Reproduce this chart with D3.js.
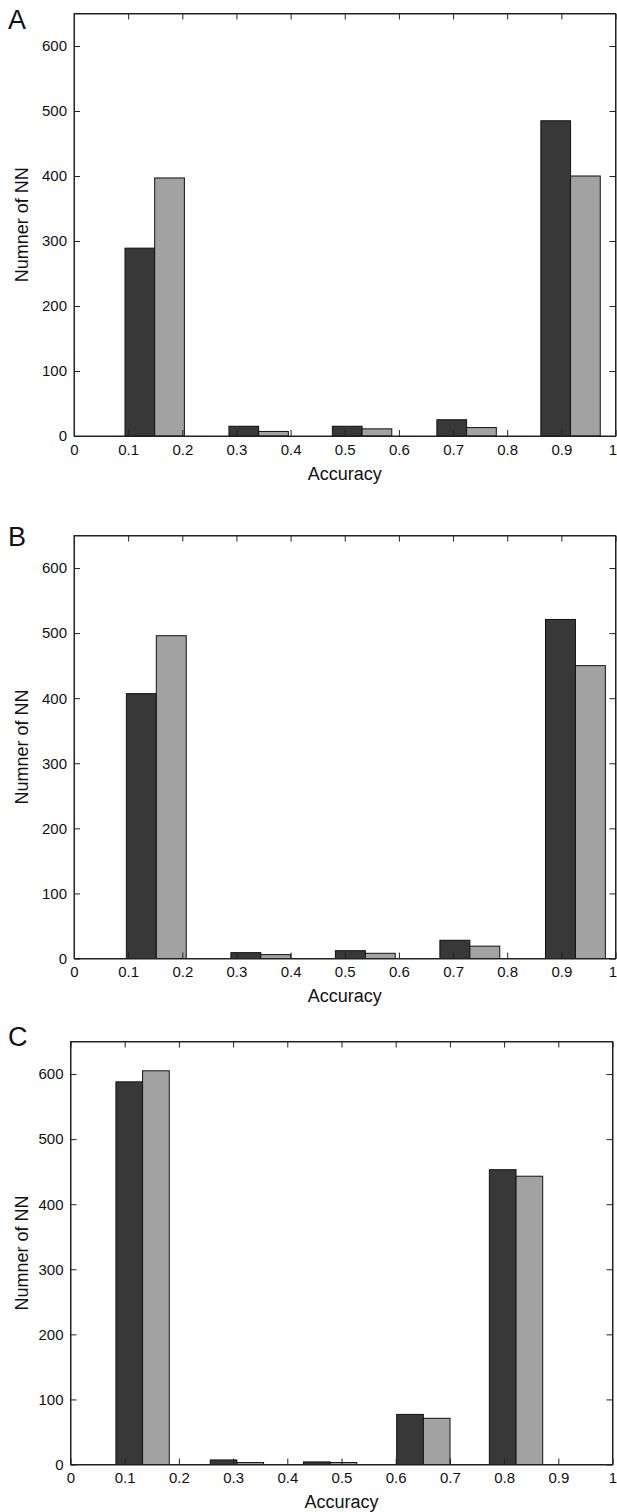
<!DOCTYPE html>
<html>
<head>
<meta charset="utf-8">
<script src="https://cdn.jsdelivr.net/npm/d3@7"></script>
<style>
  html, body { margin: 0; padding: 0; background: #fff; }
  svg { display: block; }
  text { font-family: "Liberation Sans", Arial, "DejaVu Sans", sans-serif; fill: #111; }
</style>
</head>
<body>
<svg id="chart" width="617" height="1512"></svg>
<script>
// ---- data ----
const panelLetters = ["A", "B", "C"];
const xTickValues = [0, 0.1, 0.2, 0.3, 0.4, 0.5, 0.6, 0.7, 0.8, 0.9, 1];
const xTickLabels = ["0", "0.1", "0.2", "0.3", "0.4", "0.5", "0.6", "0.7", "0.8", "0.9", "1"];
const yTickValues = [0, 100, 200, 300, 400, 500, 600];
const yTickLabels = ["0", "100", "200", "300", "400", "500", "600"];
const xLabel = "Accuracy";
const yLabel = "Numner of NN";

// bin centres and counts for each panel (dark series, light series)
const centersA = [0.149, 0.341, 0.532, 0.725, 0.917];
const darkA    = [289, 15, 15, 25, 485];
const lightA   = [397, 7, 11, 13, 400];

const centersB = [0.152, 0.345, 0.538, 0.731, 0.926];
const darkB    = [407, 9, 12, 28, 521];
const lightB   = [496, 6, 8, 19, 450];

const centersC = [0.133, 0.307, 0.479, 0.651, 0.822];
const darkC    = [588, 7, 4, 77, 453];
const lightC   = [605, 3, 3, 71, 443];

// ---- layout / style ----
const W = 617;
const panels = [
  { letter: panelLetters[0], centers: centersA, dark: darkA, light: lightA, left: 74,   right: 615.5, top: 13.5,   bottom: 436,    letterY: 29 },
  { letter: panelLetters[1], centers: centersB, dark: darkB, light: lightB, left: 74,   right: 615.5, top: 535.5,  bottom: 958.5,  letterY: 546 },
  { letter: panelLetters[2], centers: centersC, dark: darkC, light: lightC, left: 70.5, right: 612.5, top: 1041.5, bottom: 1464.5, letterY: 1046 }
];
const darkColor = "#383838";
const lightColor = "#a2a2a2";
const edgeColor = "#111";
const axisColor = "#222";
const groupFrac = 2 / 3.5;   // grouped-bar width as fraction of bin spacing
const tickLen = 6;
const tickFont = 15;

const svg = d3.select("#chart");

panels.forEach(p => {
  const x = d3.scaleLinear().domain([0, 1]).range([p.left, p.right]);
  const y = d3.scaleLinear().domain([0, 650]).range([p.bottom, p.top]);
  const g = svg.append("g");

  const spacing = (p.centers[p.centers.length - 1] - p.centers[0]) / (p.centers.length - 1);
  const barW = spacing * groupFrac / 2;

  const series = [
    { values: p.dark, color: darkColor, offset: -1 },
    { values: p.light, color: lightColor, offset: 0 }
  ];

  series.forEach(s => {
    g.append("g").selectAll("rect")
      .data(s.values.map((v, i) => ({ v, c: p.centers[i] })))
      .join("rect")
      .attr("x", d => x(d.c + s.offset * barW))
      .attr("width", d => x(d.c + (s.offset + 1) * barW) - x(d.c + s.offset * barW))
      .attr("y", d => y(d.v))
      .attr("height", d => y(0) - y(d.v))
      .attr("fill", s.color)
      .attr("stroke", edgeColor)
      .attr("stroke-width", 1);
  });

  const fmtX = d => xTickLabels[xTickValues.indexOf(d)];
  const fmtY = d => yTickLabels[yTickValues.indexOf(d)];

  // bottom axis (ticks inward)
  const gb = g.append("g").attr("transform", `translate(0,${p.bottom})`)
    .call(d3.axisBottom(x).tickValues(xTickValues).tickFormat(fmtX)
      .tickSizeInner(-tickLen).tickSizeOuter(0).tickPadding(8));
  // top axis mirror
  const gt = g.append("g").attr("transform", `translate(0,${p.top})`)
    .call(d3.axisTop(x).tickValues(xTickValues).tickFormat("")
      .tickSizeInner(-tickLen).tickSizeOuter(0));
  // left axis
  const gl = g.append("g").attr("transform", `translate(${p.left},0)`)
    .call(d3.axisLeft(y).tickValues(yTickValues).tickFormat(fmtY)
      .tickSizeInner(-tickLen).tickSizeOuter(0).tickPadding(7));
  // right axis mirror
  const gr = g.append("g").attr("transform", `translate(${p.right},0)`)
    .call(d3.axisRight(y).tickValues(yTickValues).tickFormat("")
      .tickSizeInner(-tickLen).tickSizeOuter(0));

  [gb, gt, gl, gr].forEach(a => {
    a.selectAll("path.domain").attr("stroke", axisColor).attr("stroke-width", 1);
    a.selectAll(".tick line").attr("stroke", axisColor).attr("stroke-width", 1);
    a.selectAll(".tick text").attr("font-size", tickFont).attr("fill", "#111")
      .attr("font-family", '"Liberation Sans", Arial, sans-serif');
  });

  // keep the last x label inside the page edge
  gb.selectAll(".tick text").each(function() {
    const bb = this.getBBox();
    const tx = x(d3.select(this.parentNode).datum());
    const overflow = tx + bb.x + bb.width - (W - 0.5);
    if (overflow > 0) d3.select(this).attr("dx", -overflow);
  });

  // box
  g.append("rect")
    .attr("x", p.left).attr("y", p.top)
    .attr("width", p.right - p.left).attr("height", p.bottom - p.top)
    .attr("fill", "none").attr("stroke", axisColor).attr("stroke-width", 1);

  // axis labels
  g.append("text")
    .attr("x", (p.left + p.right) / 2)
    .attr("y", p.bottom + 43.5)
    .attr("text-anchor", "middle")
    .attr("font-size", 18)
    .text(xLabel);

  g.append("text")
    .attr("transform", `translate(28,${(p.top + p.bottom) / 2}) rotate(-90)`)
    .attr("text-anchor", "middle")
    .attr("font-size", 18)
    .text(yLabel);

  // panel letter
  g.append("text")
    .attr("x", 8)
    .attr("y", p.letterY)
    .attr("font-size", 27)
    .text(p.letter);
});
</script>
</body>
</html>
